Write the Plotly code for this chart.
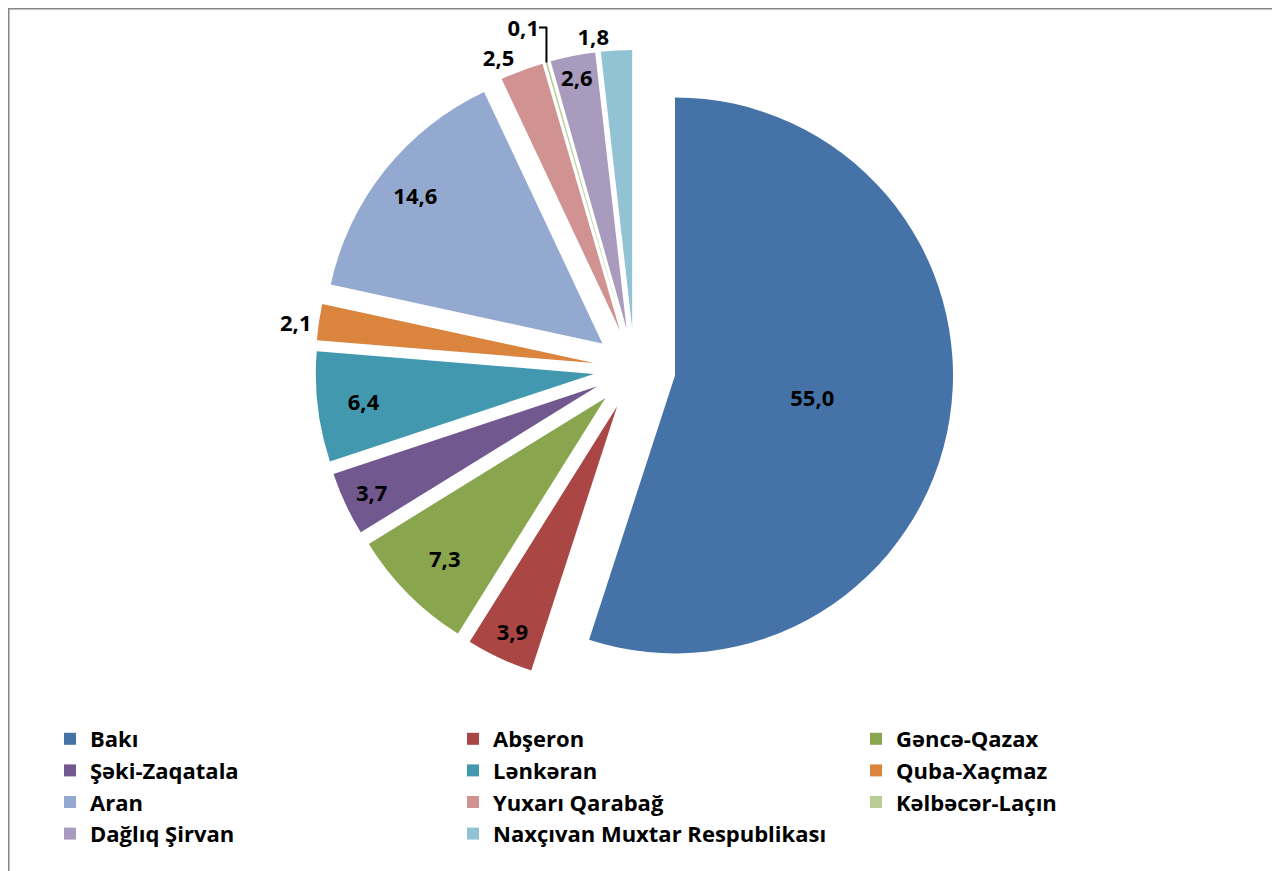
import plotly.graph_objects as go

labels = ["Bakı", "Abşeron", "Gəncə-Qazax", "Şəki-Zaqatala", "Lənkəran", "Quba-Xaçmaz",
          "Aran", "Yuxarı Qarabağ", "Kəlbəcər-Laçın", "Dağlıq Şirvan", "Naxçıvan Muxtar Respublikası"]
values = [55.0, 3.9, 7.3, 3.7, 6.4, 2.1, 14.6, 2.5, 0.1, 2.6, 1.8]
colors = ["#4572A7", "#AA4643", "#89A54E", "#71588F", "#4198AF", "#DB843D",
          "#93A9CF", "#D19392", "#B9CD96", "#A99BBD", "#92C3D5"]

# label placement: main layer, plus two transparent layers used only to place labels
pos_main = ["inside", "inside", "inside", "inside", "inside", "outside",
            "none", "none", "none", "inside", "none"]
pos_ring = ["none", "none", "none", "none", "none", "none",
            "inside", "outside", "outside", "none", "none"]
pos_top = ["none"] * 10 + ["outside"]

OFF = 8                      # page body margin
W, H = 1280 - OFF, 871 - OFF
FONT = "Open Sans"
cx, cy, r, pull = 634.5 - OFF, 369 - OFF, 278, 0.1475
half = r * (1 + pull)
dom = dict(x=[(cx - half) / W, (cx + half) / W],
           y=[(H - cy - half) / H, (H - cy + half) / H])

texts = [f"{v:.1f}".replace(".", ",") for v in values]
tfont = dict(family=FONT, size=22, color="black", weight="bold")


def layer(pos, cols, hole=0, legend=True):
    return go.Pie(
        labels=labels, values=values, text=texts, textinfo="text",
        textposition=pos, sort=False, direction="clockwise", rotation=0,
        pull=pull, hole=hole,
        marker=dict(colors=cols, line=dict(width=0)),
        insidetextorientation="horizontal",
        textfont=tfont, domain=dom, showlegend=legend,
        hoverinfo="label+percent" if legend else "skip",
    )


clear = ["rgba(0,0,0,0)"] * len(values)
fig = go.Figure([
    layer(pos_main, colors),
    layer(pos_ring, clear, hole=0.72, legend=False),
    layer(pos_top, clear, legend=False),
])

fig.update_layout(
    width=W, height=H,
    margin=dict(l=0, r=0, t=0, b=0, autoexpand=False),
    paper_bgcolor="white", plot_bgcolor="white",
    uniformtext=dict(minsize=22, mode="show"),
    font=dict(family=FONT, color="black"),
    legend=dict(orientation="h", x=42 / W, xanchor="left", y=(H - 710) / H, yanchor="top",
                entrywidth=358, entrywidthmode="pixels", itemwidth=30,
                font=dict(family=FONT, size=22, color="black", weight="bold"),
                traceorder="normal"),
    shapes=[dict(type="rect", xref="paper", yref="paper",
                 x0=0.5 / W, x1=(1277 - OFF) / W, y0=-0.05, y1=(H - 0.5) / H,
                 line=dict(color="#868686", width=2), fillcolor="rgba(0,0,0,0)", layer="below")],
)

fig.write_html("out.html")
